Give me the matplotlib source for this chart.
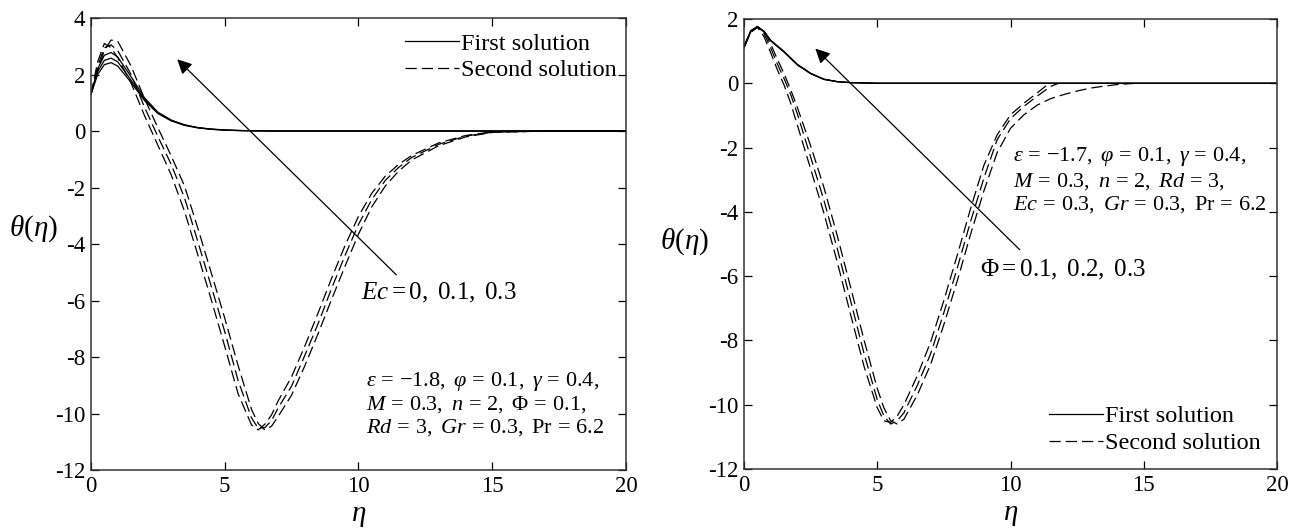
import matplotlib
matplotlib.use("Agg")
import matplotlib.pyplot as plt
from matplotlib.lines import Line2D

plt.rcParams['font.family'] = ['Liberation Serif', 'DejaVu Serif']
plt.rcParams['mathtext.fontset'] = 'custom'
plt.rcParams['mathtext.rm'] = 'Liberation Serif'
plt.rcParams['mathtext.it'] = 'Liberation Serif:italic'
plt.rcParams['mathtext.bf'] = 'Liberation Serif:bold'
plt.rcParams['axes.unicode_minus'] = False

# ---------------- Panel (a): effect of Ec ----------------
eta_first_a = [0, 0.25, 0.5, 0.75, 1.0, 1.5, 2.0, 2.5, 3.0, 3.5, 4.0, 4.5, 5.0, 5.5, 6.0, 7.0, 8.0, 20.0]
first_ec0 = [1.3, 2.0, 2.35, 2.42, 2.3, 1.72, 1.08, 0.62, 0.36, 0.2, 0.11, 0.06, 0.03, 0.015, 0.01, 0.0, 0.0, 0.0]
first_ec01 = [1.3, 2.1, 2.5, 2.58, 2.45, 1.8, 1.12, 0.64, 0.37, 0.21, 0.12, 0.065, 0.035, 0.02, 0.01, 0.0, 0.0, 0.0]
first_ec03 = [1.3, 2.2, 2.68, 2.78, 2.62, 1.92, 1.18, 0.67, 0.39, 0.22, 0.12, 0.07, 0.04, 0.02, 0.01, 0.0, 0.0, 0.0]

eta_second_a = [0, 0.25, 0.5, 0.75, 1.0, 1.5, 2.0, 2.5, 3.0, 3.5, 4.0, 4.5, 5.0, 5.5, 6.0, 6.25, 6.5,
                6.75, 7.0, 7.5, 8.0, 8.5, 9.0, 9.5, 10.0, 10.5, 11.0, 11.5, 12.0, 13.0, 14.0, 15.0, 17.0, 20.0]
second_ec0 = [1.3, 2.45, 3.1, 2.95, 2.6, 1.7, 0.55, -0.5, -1.55, -2.85, -4.4, -5.98, -7.62, -9.3, -10.4, -10.58, -10.38,
              -10.05, -9.55, -8.7, -7.6, -6.42, -5.2, -4.05, -3.02, -2.2, -1.6, -1.18, -0.86, -0.42, -0.16, -0.03, 0.0, 0.0]
second_ec01 = [1.3, 2.3, 2.95, 3.05, 2.85, 2.0, 0.85, -0.19, -1.18, -2.37, -3.93, -5.51, -7.1, -8.83, -10.15, -10.52, -10.5,
               -10.25, -9.8, -9.03, -7.93, -6.8, -5.56, -4.4, -3.31, -2.42, -1.75, -1.29, -0.93, -0.47, -0.18, -0.04, 0.0, 0.0]
second_ec03 = [1.3, 2.15, 2.85, 3.22, 3.18, 2.3, 1.15, 0.12, -0.88, -1.95, -3.45, -5.03, -6.62, -8.3, -9.85, -10.35, -10.58,
               -10.45, -10.1, -9.35, -8.3, -7.15, -5.95, -4.78, -3.65, -2.68, -1.95, -1.42, -1.02, -0.52, -0.21, -0.05, 0.0, 0.0]

# ---------------- Panel (b): effect of Phi ----------------
eta_first_b = [0, 0.25, 0.5, 0.75, 1.0, 1.5, 2.0, 2.5, 3.0, 3.5, 4.0, 5.0, 6.0, 20.0]
first_phi01 = [1.1, 1.6, 1.74, 1.6, 1.32, 0.97, 0.57, 0.3, 0.12, 0.05, 0.02, 0.0, 0.0, 0.0]
first_phi02 = [1.12, 1.62, 1.75, 1.61, 1.33, 0.98, 0.58, 0.3, 0.12, 0.05, 0.02, 0.0, 0.0, 0.0]
first_phi03 = [1.14, 1.64, 1.77, 1.62, 1.34, 0.99, 0.59, 0.31, 0.13, 0.05, 0.02, 0.0, 0.0, 0.0]

eta_second_phi03 = [0, 0.25, 0.5, 0.75, 1.0, 1.25, 1.5, 1.75, 2.0, 2.5, 3.0, 3.5, 4.0, 4.5, 5.0, 5.25, 5.5, 5.75,
                    6.0, 6.5, 7.0, 7.5, 8.0, 8.5, 9.0, 9.5, 10.0, 10.5, 11.0, 11.45]
second_phi03 = [1.15, 1.62, 1.74, 1.45, 0.95, 0.42, -0.05, -0.62, -1.3, -2.67, -4.05, -5.57, -7.2, -8.8, -10.1, -10.5,
                -10.55, -10.35, -10.0, -9.1, -8.05, -6.75, -5.35, -3.9, -2.55, -1.6, -0.98, -0.62, -0.3, 0.0]
eta_second_phi02 = [0, 0.25, 0.5, 0.75, 1.0, 1.25, 1.5, 1.75, 2.0, 2.5, 3.0, 3.5, 4.0, 4.5, 5.0, 5.25, 5.5, 5.75,
                    6.0, 6.5, 7.0, 7.5, 8.0, 8.5, 9.0, 9.5, 10.0, 10.5, 11.0, 11.5, 11.8]
second_phi02 = [1.15, 1.6, 1.75, 1.55, 1.1, 0.6, 0.15, -0.35, -0.95, -2.3, -3.65, -5.15, -6.77, -8.4, -9.85, -10.35,
                -10.6, -10.5, -10.25, -9.4, -8.42, -7.13, -5.75, -4.3, -2.95, -1.75, -1.1, -0.72, -0.4, -0.1, 0.0]
eta_second_phi01 = [0, 0.25, 0.5, 0.75, 1.0, 1.25, 1.5, 1.75, 2.0, 2.5, 3.0, 3.5, 4.0, 4.5, 5.0, 5.25, 5.5, 5.75,
                    6.0, 6.5, 7.0, 7.5, 8.0, 8.5, 9.0, 9.5, 10.0, 10.5, 11.0, 11.5, 12.0, 12.5, 13.0, 13.5, 14.0, 14.7]
second_phi01 = [1.15, 1.58, 1.75, 1.62, 1.22, 0.75, 0.3, -0.2, -0.75, -1.95, -3.25, -4.75, -6.35, -7.98, -9.5, -10.1,
                -10.5, -10.6, -10.45, -9.7, -8.75, -7.5, -6.15, -4.7, -3.35, -2.15, -1.4, -0.98, -0.68, -0.48, -0.35,
                -0.24, -0.15, -0.09, -0.04, 0.0]

legend_labels = ['First solution', 'Second solution']
xticks = [0, 5, 10, 15, 20]
yticks_a = [-12, -10, -8, -6, -4, -2, 0, 2, 4]
yticks_b = [-12, -10, -8, -6, -4, -2, 0, 2]

params_a = [r'$\varepsilon\,=\,{-}1.8,\ \varphi\,=\,0.1,\ \gamma\,=\,0.4,$',
            r'$M\,=\,0.3,\ n\,=\,2,\ \Phi\,=\,0.1,$',
            r'$Rd\,=\,3,\ Gr\,=\,0.3,\ \mathrm{Pr}\,=\,6.2$']
params_b = [r'$\varepsilon\,=\,{-}1.7,\ \varphi\,=\,0.1,\ \gamma\,=\,0.4,$',
            r'$M\,=\,0.3,\ n\,=\,2,\ Rd\,=\,3,$',
            r'$Ec\,=\,0.3,\ Gr\,=\,0.3,\ \mathrm{Pr}\,=\,6.2$']
arrow_label_a = r'$Ec = 0,\ 0.1,\ 0.3$'
arrow_label_b = r'$\Phi = 0.1,\ 0.2,\ 0.3$'

fig = plt.figure(figsize=(12.92, 5.29), dpi=100)
ax1 = fig.add_axes([0.0704, 0.1115, 0.4141, 0.8544])
ax2 = fig.add_axes([0.5759, 0.1134, 0.4125, 0.8507])

LW = 0.9
DASH = (0, (9, 4))
TICKFS = 16.5
LEGFS = 17.5

def style(ax, yticks, ylim):
    ax.set_xlim(0, 20)
    ax.set_ylim(*ylim)
    ax.set_xticks(xticks)
    ax.set_yticks(yticks)
    ax.tick_params(direction='in', top=True, right=True, length=6, width=0.9,
                   labelsize=TICKFS, pad=4)
    for s in ax.spines.values():
        s.set_linewidth(1.1)
        s.set_color('#333333')
    ax.set_xlabel(r'$\eta$', fontsize=21)
    ax.set_ylabel(r'$\theta(\eta)$', fontsize=21, rotation=0)

# Panel (a)
for y in (first_ec0, first_ec01, first_ec03):
    ax1.plot(eta_first_a, y, color='k', lw=LW)
for y in (second_ec0, second_ec01, second_ec03):
    ax1.plot(eta_second_a, y, color='k', lw=LW, linestyle=DASH)
style(ax1, yticks_a, (-12, 4))
ax1.xaxis.set_label_coords(0.5, -0.074)
ax1.yaxis.set_label_coords(-0.107, 0.50)
ax1.annotate('', xy=(3.15, 2.61), xytext=(11.49, -5.16),
             arrowprops=dict(arrowstyle='-|>', color='k', lw=0.9, mutation_scale=22))
ax1.text(10.1, -5.72, arrow_label_a, fontsize=18, va='center', ha='left')
for txt, yy in zip(params_a, (-8.88, -9.70, -10.51)):
    ax1.text(10.3, yy, txt, fontsize=16, va='center', ha='left')
h = [Line2D([], [], color='k', lw=LW), Line2D([], [], color='k', lw=LW, linestyle=DASH)]
ax1.legend(h, legend_labels, loc='upper right', bbox_to_anchor=(0.983, 0.968), frameon=False,
           fontsize=LEGFS, handlelength=2.2, handletextpad=0.1, labelspacing=0.2,
           borderpad=0, borderaxespad=0)

# Panel (b)
for y in (first_phi01, first_phi02, first_phi03):
    ax2.plot(eta_first_b, y, color='k', lw=LW)
ax2.plot(eta_second_phi01, second_phi01, color='k', lw=LW, linestyle=DASH)
ax2.plot(eta_second_phi02, second_phi02, color='k', lw=LW, linestyle=DASH)
ax2.plot(eta_second_phi03, second_phi03, color='k', lw=LW, linestyle=DASH)
style(ax2, yticks_b, (-12, 2))
ax2.xaxis.set_label_coords(0.5, -0.074)
ax2.yaxis.set_label_coords(-0.111, 0.471)
ax2.annotate('', xy=(2.6, 1.14), xytext=(10.42, -5.24),
             arrowprops=dict(arrowstyle='-|>', color='k', lw=0.9, mutation_scale=22))
ax2.text(8.86, -5.81, arrow_label_b, fontsize=18, va='center', ha='left')
for txt, yy in zip(params_b, (-2.28, -3.06, -3.77)):
    ax2.text(10.1, yy, txt, fontsize=16, va='center', ha='left')
ax2.legend(h, legend_labels, loc='lower right', bbox_to_anchor=(0.970, 0.033), frameon=False,
           fontsize=LEGFS, handlelength=2.2, handletextpad=0.1, labelspacing=0.2,
           borderpad=0, borderaxespad=0)

fig.savefig('out.png', dpi=100)
